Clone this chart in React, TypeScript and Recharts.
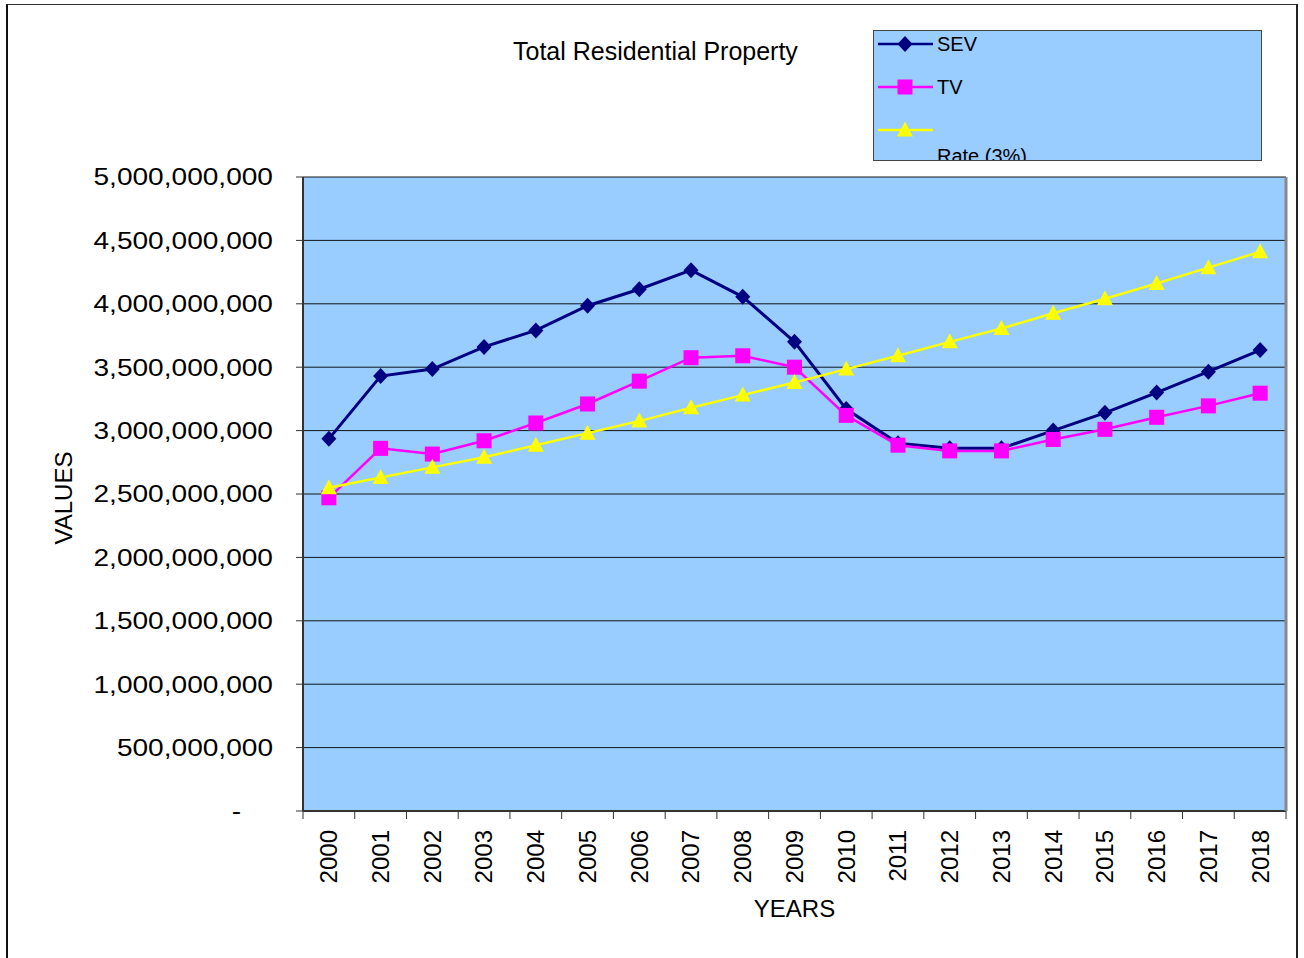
import { LineChart, Line, XAxis, YAxis, CartesianGrid, Legend } from 'recharts'

const years = ['2000', '2001', '2002', '2003', '2004', '2005', '2006', '2007', '2008', '2009',
  '2010', '2011', '2012', '2013', '2014', '2015', '2016', '2017', '2018']
const sev = [2.935e9, 3.43e9, 3.485e9, 3.66e9, 3.79e9, 3.985e9, 4.115e9, 4.265e9, 4.055e9, 3.70e9,
  3.17e9, 2.90e9, 2.86e9, 2.86e9, 3.0e9, 3.14e9, 3.30e9, 3.465e9, 3.635e9]
const tv = [2.47e9, 2.86e9, 2.815e9, 2.92e9, 3.06e9, 3.21e9, 3.39e9, 3.575e9, 3.59e9, 3.50e9,
  3.12e9, 2.885e9, 2.84e9, 2.84e9, 2.93e9, 3.01e9, 3.105e9, 3.195e9, 3.295e9]
const rate = [2.55e9, 2.63e9, 2.71e9, 2.79e9, 2.885e9, 2.98e9, 3.075e9, 3.18e9, 3.28e9, 3.38e9,
  3.485e9, 3.59e9, 3.70e9, 3.805e9, 3.925e9, 4.04e9, 4.16e9, 4.285e9, 4.41e9]
const valueTicks = [0, 5e8, 1e9, 1.5e9, 2e9, 2.5e9, 3e9, 3.5e9, 4e9, 4.5e9, 5e9]

const data = years.map((year, i) => ({ year, sev: sev[i], tv: tv[i], rate: rate[i] }))

const FONT = '"Liberation Sans", Arial, sans-serif'
const seriesOrder = ['sev', 'tv', 'rate']
const shapes: Record<string, string> = { sev: 'diamond', tv: 'square', rate: 'triangle' }

function Marker({ shape, x, y, color }: { shape: string; x: number; y: number; color: string }) {
  if (shape === 'diamond') {
    return <polygon points={`${x},${y - 8} ${x + 7.5},${y} ${x},${y + 8} ${x - 7.5},${y}`} fill={color} />
  }
  if (shape === 'square') {
    return <rect x={x - 7.5} y={y - 7.5} width={15} height={15} fill={color} />
  }
  return <polygon points={`${x},${y - 8.5} ${x + 8},${y + 6.5} ${x - 8},${y + 6.5}`} fill={color} />
}

const dotFor = (key: string, color: string) => (p: any) => {
  if (p.cx == null || p.cy == null) return <g key={`${key}-${p.index}`} />
  return <Marker key={`${key}-${p.index}`} shape={shapes[key]} x={p.cx} y={p.cy} color={color} />
}

function ValueTick({ x, y, payload }: any) {
  const zero = payload.value === 0
  const label = zero ? '-' : Number(payload.value).toLocaleString('en-US')
  const tx = zero ? x - 32 : x
  return (
    <text transform={`translate(${tx},${y}) scale(1.17,1)`} textAnchor="end" dy="0.35em"
      fontSize={24} fontFamily={FONT} fill="#000">
      {label}
    </text>
  )
}

function YearTick({ x, y, payload, index, visibleTicksCount }: any) {
  const half = payload.offset ?? 0
  const last = index === (visibleTicksCount ?? years.length) - 1
  const ty = y + 19
  return (
    <g>
      <line x1={x - half} x2={x - half} y1={y} y2={y + 8} stroke="#333" />
      {last && <line x1={x + half} x2={x + half} y1={y} y2={y + 8} stroke="#333" />}
      <text x={x} y={ty} transform={`rotate(-90, ${x}, ${ty})`} textAnchor="end" dy="0.35em"
        fontSize={24} fontFamily={FONT} fill="#000">
        {payload.value}
      </text>
    </g>
  )
}

function LegendBox({ payload }: any) {
  const entries = [...(payload || [])].sort(
    (a: any, b: any) => seriesOrder.indexOf(a.dataKey) - seriesOrder.indexOf(b.dataKey))
  return (
    <div style={{ background: '#99CCFF', border: '1px solid #444', width: 389, height: 131,
      boxSizing: 'border-box', overflow: 'hidden', fontFamily: FONT, fontSize: 20, color: '#000' }}>
      {entries.map((entry: any) => (
        <div key={entry.dataKey} style={{ display: 'flex', alignItems: 'flex-start', height: 43 }}>
          <svg width={60} height={26} style={{ flex: 'none' }}>
            <line x1={4} x2={59} y1={13} y2={13} stroke={entry.color} strokeWidth={2.5} />
            <Marker shape={shapes[entry.dataKey]} x={31} y={13} color={entry.color} />
          </svg>
          <span style={{ marginLeft: 3, lineHeight: '26px', whiteSpace: 'pre-line' }}>{entry.value}</span>
        </div>
      ))}
    </div>
  )
}

export default function App() {
  return (
    <div style={{ position: 'absolute', left: 0, top: 0, width: 1304, height: 958, overflow: 'hidden',
      background: '#fff', fontFamily: FONT }}>
      <div style={{ position: 'absolute', left: 6, top: 4, width: 1292, height: 1000, boxSizing: 'border-box',
        borderLeft: '2px solid #111', borderRight: '2px solid #222', borderTop: '1.5px solid #333' }} />
      <div style={{ position: 'absolute', left: 0, top: 0 }}>
        <LineChart width={1304} height={958} data={data} margin={{ top: 177, right: 0, bottom: 0, left: 0 }}>
          <CartesianGrid vertical={false} fill="#99CCFF" stroke="#000" strokeOpacity={0.9} />
          <XAxis dataKey="year" scale="band" interval={0} height={147} tickLine={false} tickSize={0}
            tickMargin={0} axisLine={{ stroke: '#333', strokeWidth: 2 }} tick={<YearTick />}
            label={{
              content: ({ viewBox }: any) => (
                <text x={viewBox.x + viewBox.width / 2} y={viewBox.y + 98} textAnchor="middle" dy="0.35em"
                  fontSize={24} fontFamily={FONT} fill="#000">YEARS</text>
              ),
            }} />
          <YAxis width={303} domain={[0, 5e9]} ticks={valueTicks} interval={0} tickSize={7} tickMargin={23}
            tickLine={{ stroke: '#333' }} axisLine={{ stroke: '#333', strokeWidth: 2 }} tick={<ValueTick />}
            label={{
              content: ({ viewBox }: any) => {
                const cx = viewBox.x + 64
                const cy = viewBox.y + viewBox.height / 2 + 4
                return (
                  <text x={cx} y={cy} transform={`rotate(-90, ${cx}, ${cy})`} textAnchor="middle" dy="0.35em"
                    fontSize={24} fontFamily={FONT} fill="#000">VALUES</text>
                )
              },
            }} />
          <YAxis yAxisId="frame" orientation="right" width={18} domain={[0, 5e9]} tick={false} tickLine={false}
            axisLine={{ stroke: '#888', strokeWidth: 3 }} />
          <Legend layout="vertical" align="center" verticalAlign="middle" content={<LegendBox />}
            wrapperStyle={{ left: 873, top: 30, width: 389, height: 131 }} />
          <Line type="linear" dataKey="sev" name="SEV" stroke="#000080" strokeWidth={3}
            dot={dotFor('sev', '#000080')} activeDot={false} isAnimationActive={false} />
          <Line type="linear" dataKey="tv" name="TV" stroke="#FF00FF" strokeWidth={2.5}
            dot={dotFor('tv', '#FF00FF')} activeDot={false} isAnimationActive={false} />
          <Line type="linear" dataKey="rate" name={'\nRate (3%)'} stroke="#FFFF00" strokeWidth={2.5}
            dot={dotFor('rate', '#FFFF00')} activeDot={false} isAnimationActive={false} />
        </LineChart>
      </div>
      <div style={{ position: 'absolute', left: 513, top: 37, fontSize: 25, lineHeight: '28px', color: '#000' }}>
        Total Residential Property
      </div>
    </div>
  )
}
